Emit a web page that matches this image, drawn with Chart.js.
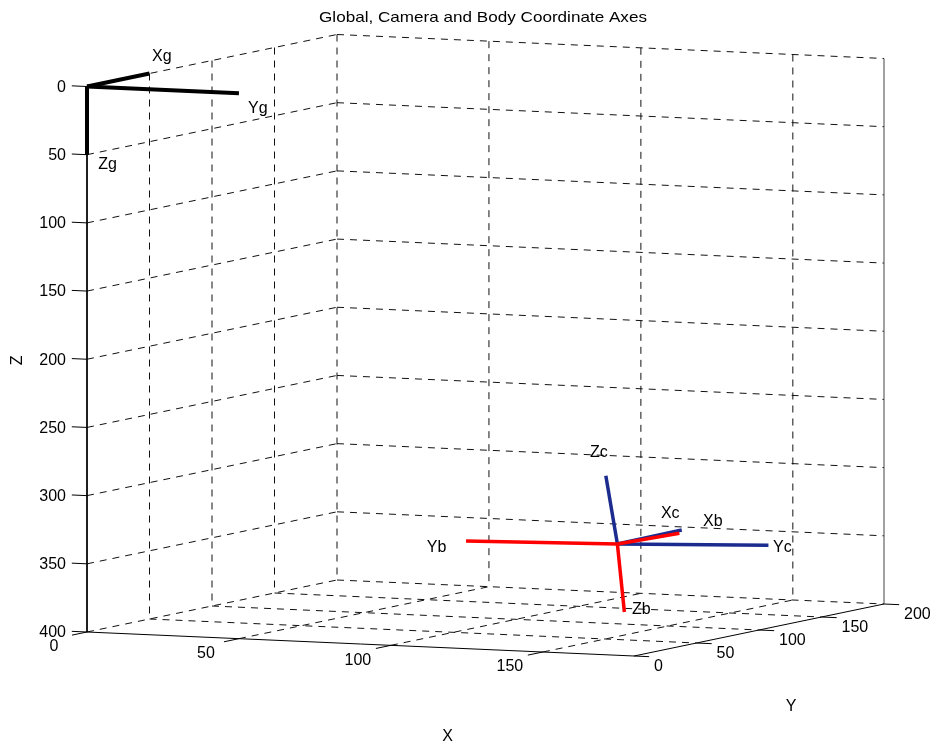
<!DOCTYPE html>
<html>
<head>
<meta charset="utf-8">
<title>Global, Camera and Body Coordinate Axes</title>
<script src="https://cdn.jsdelivr.net/npm/chart.js@4.4.0/dist/chart.umd.min.js"></script>
<style>
  html, body { margin: 0; padding: 0; background: #fff; }
  #wrap { width: 936px; height: 749px; }
</style>
</head>
<body>
<div id="wrap"><canvas id="axesChart" width="936" height="749"></canvas></div>
<script>
// axis limits and ticks (Z runs downward, like the original figure)
const xLim = [0, 180];
const yLim = [0, 200];
const zLim = [0, 400];
const xTicks = [0, 50, 100, 150];
const yTicks = [0, 50, 100, 150, 200];
const zTicks = [0, 50, 100, 150, 200, 250, 300, 350, 400];

// coordinate frames: origin, axis end points and label anchors, all [x, y, z]
const globalOrigin = [0, 0, 0];
const globalEnds = [[0, 50, 0], [50, 0, 0], [0, 0, 50]];
const globalNames = ['Xg', 'Yg', 'Zg'];
const globalLabelAt = [[0, 52, -12], [53, 0, 11], [0, 9, 59]];

const cameraOrigin = [133.4, 100, 341.5];
const cameraEnds = [[133.4, 151.5, 341.1], [183.1, 100, 337.6], [129.6, 100, 291.8]];
const cameraNames = ['Xc', 'Yc', 'Zc'];
const cameraLabelAt = [[125.1, 155, 330.8], [184.6, 100, 339.4], [124.4, 100, 275.6]];

const bodyOrigin = [133.4, 100, 341.5];
const bodyEnds = [[133.4, 149.6, 343.1], [83.6, 100, 344.2], [135.7, 100, 391.1]];
const bodyNames = ['Xb', 'Yb', 'Zb'];
const bodyLabelAt = [[136.9, 160, 336.4], [70.7, 100, 350.5], [138.2, 100, 389.4]];

// view: where the origin lands and how one unit of each axis moves on screen
const view = {
  origin: [87, 86.5],
  ex: [547 / 180, 24 / 180],
  ey: [250 / 200, -52 / 200],
  ez: [0, 545.5 / 400]
};

function proj(p) {
  return {
    x: view.origin[0] + p[0] * view.ex[0] + p[1] * view.ey[0] + p[2] * view.ez[0],
    y: view.origin[1] + p[0] * view.ex[1] + p[1] * view.ey[1] + p[2] * view.ez[1]
  };
}

const FONT = '"Liberation Sans", Arial, Helvetica, sans-serif';
const GRID = { color: '#111', width: 1, dash: [7, 6] };
const BLUE = '#1b2c8e';
const RED = '#ff0000';

const datasets = [];
function seg(a, b, color, width, dash, order) {
  datasets.push({
    data: [proj(a), proj(b)],
    borderColor: color,
    borderWidth: width,
    borderDash: dash || [],
    showLine: true,
    pointRadius: 0,
    pointHoverRadius: 0,
    fill: false,
    tension: 0,
    borderCapStyle: 'butt',
    order: order
  });
}

const x1 = xLim[1], y1 = yLim[1], z0 = zLim[0], z1 = zLim[1];

// grid on the X=0 wall, the Y=max wall and the floor
zTicks.forEach(z => {
  seg([0, 0, z], [0, y1, z], GRID.color, GRID.width, GRID.dash, 50);
  seg([0, y1, z], [x1, y1, z], GRID.color, GRID.width, GRID.dash, 50);
});
yTicks.filter(y => y > 0).forEach(y => seg([0, y, z0], [0, y, z1], GRID.color, GRID.width, GRID.dash, 50));
xTicks.filter(x => x > 0).forEach(x => seg([x, y1, z0], [x, y1, z1], GRID.color, GRID.width, GRID.dash, 50));
xTicks.filter(x => x > 0).forEach(x => seg([x, 0, z1], [x, y1, z1], GRID.color, GRID.width, GRID.dash, 50));
yTicks.filter(y => y > 0 && y < y1).forEach(y => seg([0, y, z1], [x1, y, z1], GRID.color, GRID.width, GRID.dash, 50));

// axis lines and tick marks
seg([0, 0, z0], [0, 0, z1], '#000', 1, null, 40);
seg([0, 0, z1], [x1, 0, z1], '#000', 1, null, 40);
seg([x1, 0, z1], [x1, y1, z1], '#000', 1, null, 40);
seg([x1, y1, z1], [x1, y1, z0], '#444', 1, null, 40);
zTicks.forEach(z => seg([0, 0, z], [-5, 0, z], '#000', 1, null, 40));
xTicks.forEach(x => seg([x, 0, z1], [x, -12, z1], '#000', 1, null, 40));
yTicks.forEach(y => seg([x1, y, z1], [x1 + 5, y, z1], '#000', 1, null, 40));

// coordinate frames (body drawn on top of camera)
globalEnds.forEach(e => seg(globalOrigin, e, '#000', 4, null, 3));
cameraEnds.forEach(e => seg(cameraOrigin, e, BLUE, 3.5, null, 2));
bodyEnds.forEach(e => seg(bodyOrigin, e, RED, 3.5, null, 1));

const textPlugin = {
  id: 'axesText',
  afterDatasetsDraw(chart) {
    const ctx = chart.ctx;
    const sx = chart.scales.x, sy = chart.scales.y;
    const at = p => { const q = proj(p); return [sx.getPixelForValue(q.x), sy.getPixelForValue(q.y)]; };
    ctx.save();
    ctx.fillStyle = '#000';

    // tick labels
    ctx.font = '16px ' + FONT;
    ctx.textBaseline = 'middle';
    ctx.textAlign = 'right';
    zTicks.forEach(z => { const [u, v] = at([0, 0, z]); ctx.fillText(String(z), u - 21, v + 1); });
    ctx.textAlign = 'center';
    xTicks.forEach(x => { const [u, v] = at([x, 0, z1]); ctx.fillText(String(x), u - 33, v + 15); });
    ctx.textAlign = 'left';
    yTicks.forEach(y => { const [u, v] = at([x1, y, z1]); ctx.fillText(String(y), u + 20, v + 11); });

    // frame labels
    ctx.font = '16px ' + FONT;
    const label = (names, pos) => names.forEach((n, i) => { const [u, v] = at(pos[i]); ctx.fillText(n, u, v); });
    label(globalNames, globalLabelAt);
    label(cameraNames, cameraLabelAt);
    label(bodyNames, bodyLabelAt);

    // axis titles
    ctx.font = '16px ' + FONT;
    ctx.textAlign = 'center';
    const [ax, ay] = at([x1 / 2, 0, z1]);
    ctx.fillText('X', ax + 87, ay + 93);
    const [bx, by] = at([x1, y1 / 2, z1]);
    ctx.fillText('Y', bx + 32, by + 77);
    const [cx, cy] = at([0, 0, (z0 + z1) / 2]);
    ctx.save();
    ctx.translate(cx - 69, cy + 1);
    ctx.rotate(-Math.PI / 2);
    ctx.fillText('Z', 0, 0);
    ctx.restore();

    // title (the original font runs a little wider than Liberation Sans)
    ctx.font = '15px ' + FONT;
    ctx.save();
    ctx.translate(483, 18);
    ctx.scale(1.14, 1);
    ctx.fillText('Global, Camera and Body Coordinate Axes', 0, 0);
    ctx.restore();
    ctx.restore();
  }
};

new Chart(document.getElementById('axesChart'), {
  type: 'scatter',
  data: { datasets: datasets },
  options: {
    responsive: false,
    animation: false,
    devicePixelRatio: 1,
    layout: { padding: 0 },
    plugins: { legend: { display: false }, tooltip: { enabled: false }, title: { display: false } },
    events: [],
    scales: {
      x: { type: 'linear', display: false, min: 0, max: 936 },
      y: { type: 'linear', display: false, min: 0, max: 749, reverse: true }
    }
  },
  plugins: [textPlugin]
});
</script>
</body>
</html>
